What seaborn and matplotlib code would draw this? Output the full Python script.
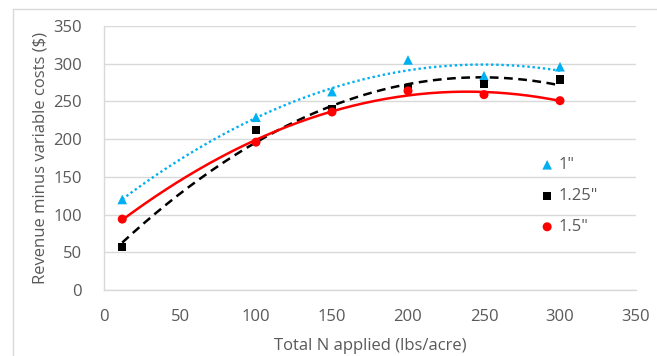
import numpy as np
import pandas as pd
import matplotlib
matplotlib.use("Agg")
import matplotlib.pyplot as plt
import seaborn as sns

# Data
n_applied = [12, 100, 150, 200, 250, 300]
series_names = ['1"', '1.25"', '1.5"']
rev_1 = [120, 229, 263, 305, 284, 296]
rev_125 = [57, 212, 240, 268, 273, 279]
rev_15 = [94, 196, 236, 264, 259, 251]
x_ticks = [0, 50, 100, 150, 200, 250, 300, 350]
y_ticks = [0, 50, 100, 150, 200, 250, 300, 350]

sns.set_theme(style="white")
plt.rcParams['font.family'] = ['Open Sans', 'DejaVu Sans']

grey = '#595959'
fs = 12
colors = {'1"': '#00B0F0', '1.25"': '#000000', '1.5"': '#FF0000'}
markers = {'1"': '^', '1.25"': 's', '1.5"': 'o'}
sizes = {'1"': 48, '1.25"': 36, '1.5"': 42}
styles = {'1"': (0, (1, 1.2)), '1.25"': (0, (3.5, 2.2)), '1.5"': '-'}
lws = {'1"': 1.7, '1.25"': 1.8, '1.5"': 1.8}

df = pd.DataFrame({
    'N': n_applied * 3,
    'rev': rev_1 + rev_125 + rev_15,
    'series': sum([[s] * len(n_applied) for s in series_names], []),
})

fig = plt.figure(figsize=(6.57, 3.56), dpi=100)
ax = fig.add_axes([104 / 657, 1 - 290 / 356, (636 - 104) / 657, (290 - 26) / 356])

# polynomial (order 2) trend lines fitted to each series
xx = np.linspace(min(n_applied), max(n_applied), 200)
for s in series_names:
    sub = df[df.series == s]
    coef = np.polyfit(sub.N, sub.rev, 2)
    trend = pd.DataFrame({'N': xx, 'rev': np.polyval(coef, xx)})
    sns.lineplot(data=trend, x='N', y='rev', ax=ax, color=colors[s],
                 linestyle=styles[s], linewidth=lws[s], legend=False, zorder=2)

for s in series_names:
    sub = df[df.series == s]
    sns.scatterplot(data=sub, x='N', y='rev', ax=ax, color=colors[s],
                    marker=markers[s], s=sizes[s], edgecolor='none',
                    label=s, zorder=3)

ax.set_xlim(0, 350)
ax.set_ylim(0, 350)
ax.set_xticks(x_ticks)
ax.set_yticks(y_ticks)
ax.grid(axis='y', color='#D9D9D9', linewidth=1)
ax.set_axisbelow(True)
for sp in ['top', 'right']:
    ax.spines[sp].set_visible(False)
for sp in ['left', 'bottom']:
    ax.spines[sp].set_color('#D9D9D9')
    ax.spines[sp].set_linewidth(1)
ax.tick_params(axis='both', colors=grey, labelsize=fs, length=0)
ax.tick_params(axis='y', pad=16)
ax.tick_params(axis='x', pad=14)
ax.set_xlabel('Total N applied (lbs/acre)', color=grey, fontsize=fs, labelpad=9)
ax.set_ylabel('Revenue minus variable costs ($)', color=grey, fontsize=fs, labelpad=3)

leg = ax.legend(loc='upper left', bbox_to_anchor=(0.786, 0.56), frameon=False,
                fontsize=fs, labelspacing=0.9, handletextpad=0.1,
                handlelength=1.2, labelcolor=grey)

# chart-area border (left and top visible)
fig.add_artist(plt.Line2D([13 / 657, 13 / 657], [0, 1 - 9 / 356], transform=fig.transFigure,
                          color='#D9D9D9', linewidth=1))
fig.add_artist(plt.Line2D([13 / 657, 1], [1 - 9 / 356, 1 - 9 / 356], transform=fig.transFigure,
                          color='#D9D9D9', linewidth=1))

fig.savefig('out.png', dpi=100)
